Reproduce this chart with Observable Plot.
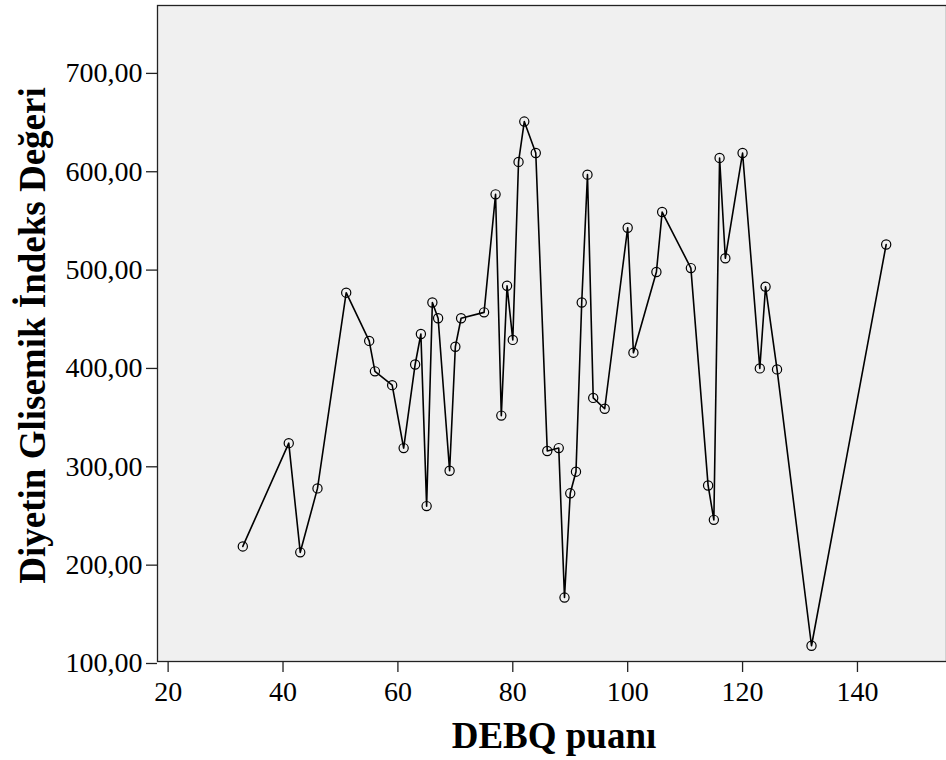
<!DOCTYPE html>
<html>
<head>
<meta charset="utf-8">
<script src="https://cdn.jsdelivr.net/npm/d3@7"></script>
<script src="https://cdn.jsdelivr.net/npm/@observablehq/plot@0.6"></script>
<style>
  html, body { margin: 0; padding: 0; background: #ffffff; }
  #chart svg { display: block; }
</style>
</head>
<body>
<div id="chart"></div>
<script>
// DEBQ puanı (x) and Diyetin Glisemik İndeks Değeri (y)
const debq = [33, 41, 43, 46, 51, 55, 56, 59, 61, 63, 64, 65, 66, 67, 69, 70, 71, 75, 77, 78,
              79, 80, 81, 82, 84, 86, 88, 89, 90, 91, 92, 93, 94, 96, 100, 101, 105, 106, 111, 114,
              115, 116, 117, 120, 123, 124, 126, 132, 145];
const gi = [217, 322, 211, 276, 475, 426, 395, 381, 317, 402, 433, 258, 465, 449, 294, 420, 449, 455, 575, 350,
            482, 427, 608, 649, 617, 314, 317, 165, 271, 293, 465, 595, 368, 357, 541, 414, 496, 557, 500, 279,
            244, 612, 510, 617, 398, 481, 397, 116, 524];

const xTicks = [20, 40, 60, 80, 100, 120, 140];
const yTicks = [100, 200, 300, 400, 500, 600, 700];
const xTitle = ["DEBQ puanı"];
const yTitle = ["Diyetin Glisemik İndeks Değeri"];

const rows = debq.map((x, i) => ({x, y: gi[i]}));
const serif = "'Liberation Serif', 'Times New Roman', serif";

const chart = Plot.plot({
  width: 946,
  height: 760,
  marginLeft: 157,
  marginRight: 0,
  marginTop: 5,
  marginBottom: 99,
  style: {fontFamily: serif, fontSize: "28px", background: "#ffffff", color: "#000"},
  x: {domain: [18.15, 155.5]},
  y: {domain: [100, 767]},
  marks: [
    Plot.frame({fill: "#f0f0f0", stroke: "#222", strokeWidth: 1.3}),
    Plot.axisX({ticks: xTicks, tickSize: 11, tickPadding: 9, fontSize: 28, fontFamily: serif,
                label: null, strokeWidth: 1.3, stroke: "#222", fill: "#000"}),
    Plot.axisY({ticks: yTicks, tickSize: 11, tickPadding: 4, fontSize: 28, fontFamily: serif,
                tickFormat: d => d.toFixed(2).replace(".", ","), dy: 2,
                label: null, strokeWidth: 1.3, stroke: "#222", fill: "#000"}),
    Plot.line(rows, {x: "x", y: "y", stroke: "#000", strokeWidth: 1.6}),
    Plot.dot(rows, {x: "x", y: "y", r: 4.6, stroke: "#000", fill: "none", strokeWidth: 1.2}),
    Plot.text(xTitle, {frameAnchor: "bottom", text: d => d, dy: 75, dx: 2,
                       textAnchor: "middle", lineAnchor: "middle",
                       fontSize: 37, fontWeight: "bold", fontFamily: serif, fill: "#000"}),
    Plot.text(yTitle, {frameAnchor: "left", text: d => d, dx: -124, dy: 2, rotate: -90,
                       textAnchor: "middle", lineAnchor: "middle",
                       fontSize: 37, fontWeight: "bold", fontFamily: serif, fill: "#000"})
  ]
});
document.getElementById("chart").append(chart);
</script>
</body>
</html>
